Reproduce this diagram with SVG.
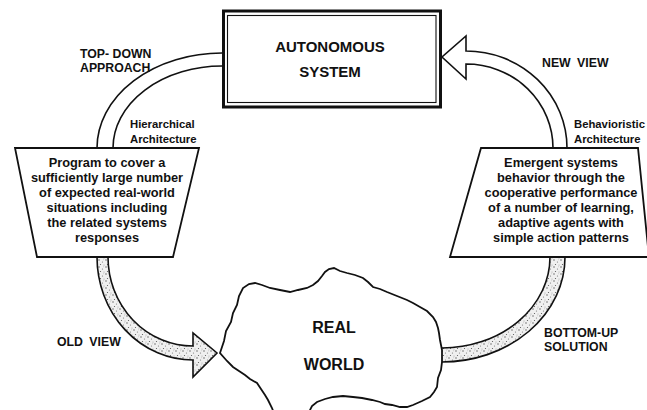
<svg xmlns="http://www.w3.org/2000/svg" width="647" height="410" viewBox="0 0 647 410">
<style>
  .t { font-family: "Liberation Sans", Arial, sans-serif; font-weight: bold; fill: #111; }
  .box { font-size: 12.8px; text-anchor: middle; }
  .lbl { font-size: 12.3px; }
  .arch { font-size: 11.3px; }
  .big { font-size: 15px; text-anchor: middle; }
  .rw { font-size: 16px; text-anchor: middle; }
  .edge { fill: none; stroke: #111; stroke-width: 1.6; }
  .shape { fill: #fff; stroke: #111; stroke-width: 1.8; stroke-linejoin: miter; }
</style>
<defs>
  <pattern id="stip" width="7" height="7" patternUnits="userSpaceOnUse">
    <rect width="7" height="7" fill="#f0f0f0"/>
    <circle cx="1" cy="1" r="0.7" fill="#555"/>
    <circle cx="4.5" cy="3" r="0.6" fill="#777"/>
    <circle cx="2.5" cy="5.5" r="0.6" fill="#555"/>
    <circle cx="6" cy="6" r="0.5" fill="#999"/>
    <circle cx="5.5" cy="0.8" r="0.4" fill="#999"/>
  </pattern>
</defs>
<rect width="647" height="410" fill="#fff"/>

<g id="connectors">
  <!-- top-down approach (hollow band, no head) -->
  <path class="edge" d="M222,53 A125,95 0 0 0 97,148"/>
  <path class="edge" d="M222,66 A109,82 0 0 0 113,148"/>
  <!-- old view (stippled arrow to real world) -->
  <path d="M97,257 A96,103 0 0 0 193,360 L193,377 L217,353 L193,333 L193,346 A85,89 0 0 1 108,257 Z" fill="url(#stip)" stroke="none"/>
  <path class="edge" d="M97,257 A96,103 0 0 0 193,360 L193,377 L217,353 L193,333 L193,346 A85,89 0 0 1 108,257"/>
  <!-- bottom-up solution (stippled band, no head) -->
  <path d="M442,348 A108,91 0 0 0 550,257 L565,257 A123,105 0 0 1 442,362 Z" fill="url(#stip)" stroke="none"/>
  <path class="edge" d="M442,348 A108,91 0 0 0 550,257"/>
  <path class="edge" d="M565,257 A123,105 0 0 1 442,362"/>
  <!-- new view (hollow arrow to autonomous system) -->
  <path d="M553,148 A87,84 0 0 0 466,64 L466,79 L442,57 L466,36 L466,51 A101,97 0 0 1 567,148" fill="#fff" stroke="#111" stroke-width="1.6" stroke-linejoin="miter"/>
</g>

<g id="node-autonomous">
  <rect x="223.5" y="11" width="217" height="96" fill="#fff" stroke="#111" stroke-width="3"/>
  <rect x="227.5" y="15.5" width="208.5" height="87" fill="none" stroke="#111" stroke-width="1.1"/>
  <text class="t big" x="330" y="52">AUTONOMOUS</text>
  <text class="t big" x="330" y="77">SYSTEM</text>
</g>

<g id="node-hierarchical">
  <polygon class="shape" points="15,148 199,148 173,257 37,257"/>
  <text class="t box" x="107" y="167">Program to cover a</text>
  <text class="t box" x="107" y="182">sufficiently large  number</text>
  <text class="t box" x="107" y="197">of expected real-world</text>
  <text class="t box" x="107" y="212">situations including</text>
  <text class="t box" x="107" y="227">the related systems</text>
  <text class="t box" x="107" y="242">responses</text>
</g>

<g id="node-behavioristic">
  <polygon class="shape" points="481,148 638,148 649,257 450,257"/>
  <text class="t box" x="561" y="167">Emergent systems</text>
  <text class="t box" x="561" y="182">behavior through the</text>
  <text class="t box" x="561" y="197">cooperative performance</text>
  <text class="t box" x="561" y="212">of a number of learning,</text>
  <text class="t box" x="561" y="227">adaptive agents with</text>
  <text class="t box" x="561" y="242">simple action patterns</text>
</g>

<g id="node-realworld">
  <path class="shape" stroke-width="2" stroke-linejoin="round" d="M220,353 L224,341 L226,331 L231,322 L233,313 L237,305 L239,296 L243,288 L249,284 L255,283 L262,285 L270,288 L280,290 L290,292 L298,290 L307,288 L313,285 L318,281 L322,276 L325,272 L329,269 L334,268 L340,271 L347,273 L355,275 L363,278 L368,282 L373,287 L380,289 L387,292 L397,296 L407,300 L413,303 L420,307 L427,311 L433,317 L436,322 L438,328 L439,333 L440,340 L441,345 L442,350 L442,362 L441,370 L438,378 L437,387 L434,392 L430,397 L422,401 L413,405 L407,407 L400,407 L392,405 L385,404 L380,402 L372,400 L362,398 L353,397 L343,396 L333,397 L325,399 L317,402 L312,406 L310,410 L308,416 L290,418 L275,416 L272,408 L268,400 L265,395 L261,389 L257,383 L250,379 L245,375 L239,371 L233,367 L227,361 Z"/>
  <text class="t rw" x="334" y="333">REAL</text>
  <text class="t rw" x="334" y="370">WORLD</text>
</g>

<g id="labels">
  <text class="t lbl" x="80" y="58">TOP- DOWN</text>
  <text class="t lbl" x="80" y="72">APPROACH</text>
  <text class="t arch" x="130" y="128">Hierarchical</text>
  <text class="t arch" x="130" y="143">Architecture</text>
  <text class="t lbl" x="542" y="67" word-spacing="3">NEW VIEW</text>
  <text class="t arch" x="574" y="128">Behavioristic</text>
  <text class="t arch" x="574" y="143">Architecture</text>
  <text class="t lbl" x="57" y="346" word-spacing="3">OLD VIEW</text>
  <text class="t lbl" x="544" y="337">BOTTOM-UP</text>
  <text class="t lbl" x="544" y="351">SOLUTION</text>
</g>
</svg>
